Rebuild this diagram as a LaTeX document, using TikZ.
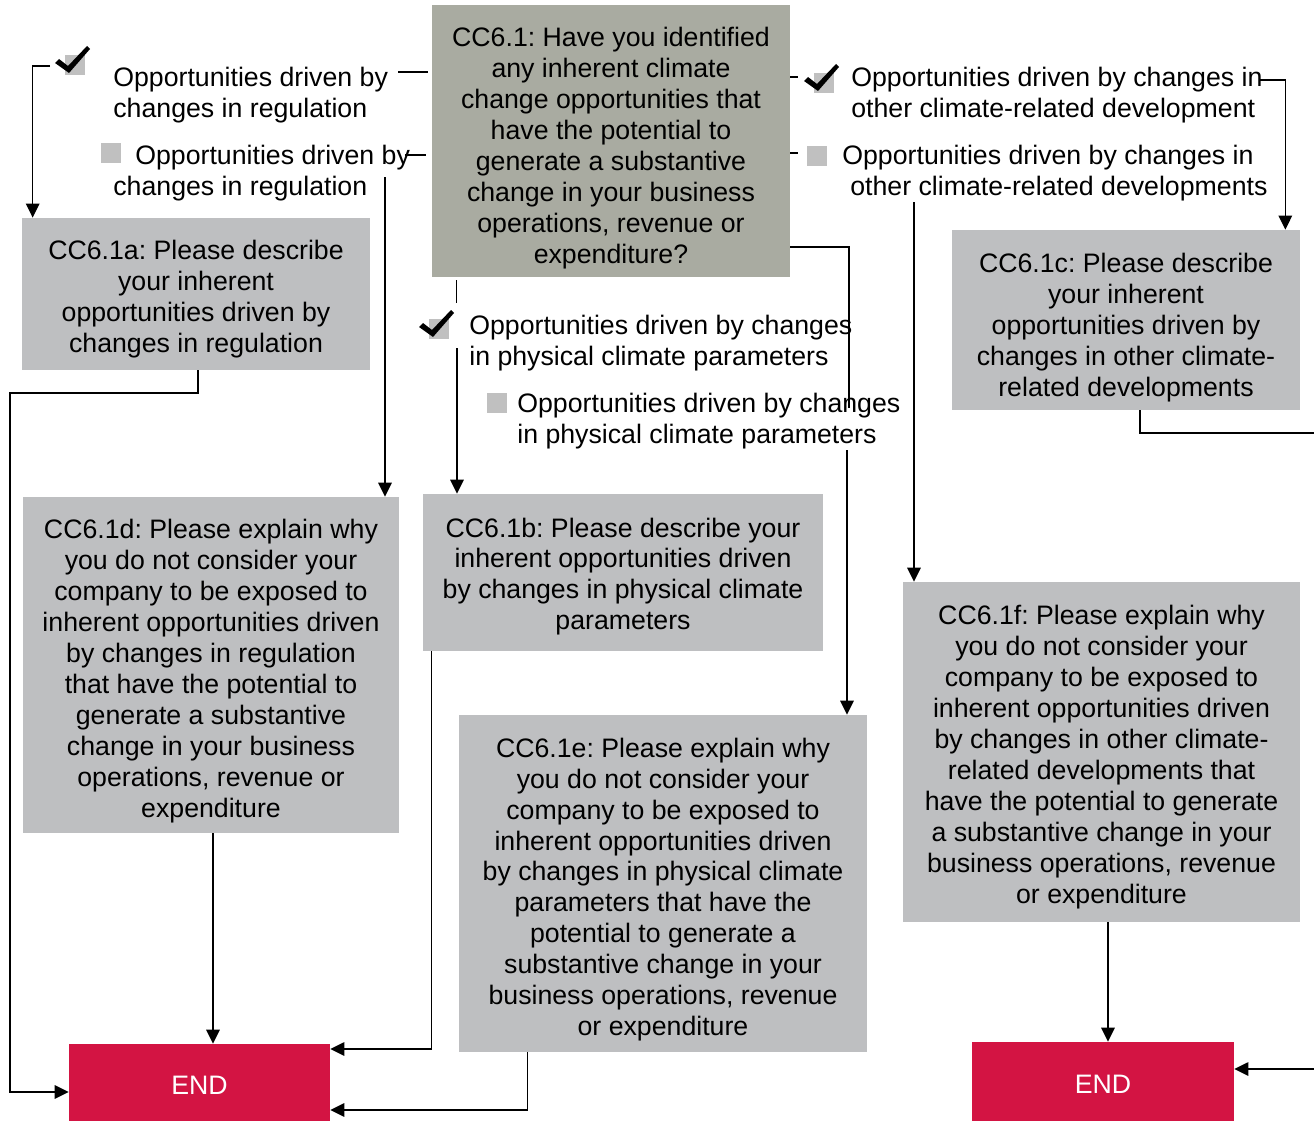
\documentclass[tikz,border=0pt]{standalone}
\usepackage{fontspec}
\setmainfont{Liberation Sans}
\usetikzlibrary{arrows.meta}
\definecolor{qgreen}{HTML}{A9ABA1}
\definecolor{qgray}{HTML}{BEBFC1}
\definecolor{tickgray}{HTML}{C0C0C0}
\definecolor{endred}{HTML}{D31443}
\frenchspacing
\begin{document}
\begin{tikzpicture}[x=0.02cm,y=-0.02cm,
  txt/.style={font=\fontsize{15.2}{17.6}\selectfont, inner sep=0pt},
  qbox/.style={fill=qgray, inner sep=0pt},
  qtext/.style={txt, align=center},
  endbox/.style={txt, fill=endred, text=white},
  opt/.style={txt, align=left, anchor=west},
  link/.style={draw=black, line width=0.8pt},
  arr/.style={link, -{Triangle[length=0.28cm,width=0.27cm]}},
  checkpic/.pic={
    \fill[tickgray] (0,0) rectangle (20,20);
    \fill[black] (-10,8) -- (-6,4) -- (3,11) -- (22,-9) -- (25,-6) -- (4,18) -- cycle;
  },
  squarepic/.pic={\fill[tickgray] (0,0) rectangle (20,20);}
]
\useasboundingbox (0,0) rectangle (1314,1122);

% question boxes
\node[qbox, fill=qgreen, minimum width=7.16cm, minimum height=5.44cm] (q) at (611,141) {};
\node[qtext] at ([yshift=-0.14cm]q.center)
  {CC6.1: Have you identified\\any inherent climate\\change opportunities that\\have the potential to\\generate a substantive\\change in your business\\operations, revenue or\\expenditure?};
\node[qbox, minimum width=6.96cm, minimum height=3.04cm] (a) at (196,294) {};
\node[qtext] at ([yshift=-0.1cm]a.center)
  {CC6.1a: Please describe\\your inherent\\opportunities driven by\\changes in regulation};
\node[qbox, minimum width=7.52cm, minimum height=6.72cm] (d) at (211,665) {};
\node[qtext] at ([yshift=-0.12cm]d.center)
  {CC6.1d: Please explain why\\you do not consider your\\company to be exposed to\\inherent opportunities driven\\by changes in regulation\\that have the potential to\\generate a substantive\\change in your business\\operations, revenue or\\expenditure};
\node[qbox, minimum width=8.0cm, minimum height=3.14cm] (b) at (623,572.5) {};
\node[qtext] at ([yshift=-0.08cm]b.center)
  {CC6.1b: Please describe your\\inherent opportunities driven\\by changes in physical climate\\parameters};
\node[qbox, minimum width=8.16cm, minimum height=6.74cm] (e) at (663,883.5) {};
\node[qtext] at ([yshift=-0.12cm]e.center)
  {CC6.1e: Please explain why\\you do not consider your\\company to be exposed to\\inherent opportunities driven\\by changes in physical climate\\parameters that have the\\potential to generate a\\substantive change in your\\business operations, revenue\\or expenditure};
\node[qbox, minimum width=6.96cm, minimum height=3.6cm] (c) at (1126,320) {};
\node[qtext] at ([yshift=-0.15cm]c.center)
  {CC6.1c: Please describe\\your inherent\\opportunities driven by\\changes in other climate-\\related developments};
\node[qbox, minimum width=7.94cm, minimum height=6.8cm] (f) at (1101.5,752) {};
\node[qtext] at ([yshift=-0.1cm]f.center)
  {CC6.1f: Please explain why\\you do not consider your\\company to be exposed to\\inherent opportunities driven\\by changes in other climate-\\related developments that\\have the potential to generate\\a substantive change in your\\business operations, revenue\\or expenditure};
\node[endbox, minimum width=5.22cm, minimum height=1.54cm] (end1) at (199.5,1082.5) {};
\node[txt, text=white] at ([yshift=-0.06cm]end1.center) {END};
\node[endbox, minimum width=5.24cm, minimum height=1.58cm] (end2) at (1103,1081.5) {};
\node[txt, text=white] at ([yshift=-0.06cm]end2.center) {END};

% answer options
\node[opt] (o1) at (113,95.5) {Opportunities driven by\\changes in regulation};
\node[opt] (o2) at (113,173.5) {\hspace*{0.44cm}Opportunities driven by\\changes in regulation};
\node[opt] (o3) at (469,343) {Opportunities driven by changes\\in physical climate parameters};
\node[opt] (o4) at (517,421) {Opportunities driven by changes\\in physical climate parameters};
\node[opt] (o5) at (851,95.5) {Opportunities driven by changes in\\other climate-related development};
\node[opt] (o6) at (842,173.5) {Opportunities driven by changes in\\\hspace*{0.16cm}other climate-related developments};

% tick boxes
\pic at (65,55) {checkpic};
\pic at (429,319) {checkpic};
\pic at (814,73) {checkpic};
\pic at (101,143) {squarepic};
\pic at (807,146) {squarepic};
\pic at (487,393) {squarepic};

% connectors, left branch
\coordinate (k1) at (50,66);
\draw[arr] (k1) -| ([xshift=0.22cm]a.north west);
\draw[link] ([xshift=-0.08cm,yshift=1.38cm]q.west) -- ++(-30,0);
\draw[link] ([xshift=-0.12cm,yshift=-0.28cm]q.west) -- ++(-21,0);
\coordinate (k2) at (385,177);
\draw[arr] (k2) -- (k2 |- d.north);
\coordinate (l1) at (10,393);
\draw[arr] ([xshift=0.04cm]a.south) |- (l1) |- ([yshift=-0.19cm]end1.west);
\coordinate (dS) at ([xshift=0.04cm]d.south);
\draw[arr] (dS) -- (dS |- end1.north);

% connectors, middle branch
\draw[link] ([xshift=0.5cm,yshift=-0.06cm]q.south west) -- ++(0,23);
\coordinate (k3) at (457,348);
\draw[arr] (k3) -- (k3 |- b.north);
\draw[arr] ([xshift=0.18cm]b.south west) |- ([yshift=0.67cm]end1.east);
\draw[arr] ([xshift=1.38cm]e.south west) |- ([yshift=-0.55cm]end1.east);
\coordinate (r1) at (849,408);
\draw[link] ([yshift=-2.12cm]q.east) -| (r1);
\coordinate (r2) at (847,450);
\draw[arr] (r2) -- (r2 |- e.north);

% connectors, right branch
\draw[link] ([yshift=1.28cm]q.east) -- ++(8,0);
\draw[link] ([yshift=-0.24cm]q.east) -- ++(8,0);
\coordinate (k5) at (1260,80);
\draw[arr] (k5) -| ([xshift=-0.3cm]c.north east);
\coordinate (k6) at (914,202);
\draw[arr] (k6) -- (k6 |- f.north);
\coordinate (cx) at (1314,433);
\draw[link] ([xshift=0.28cm]c.south) |- (cx);
\coordinate (fS) at ([xshift=0.13cm]f.south);
\draw[arr] (fS) -- (fS |- end2.north);
\coordinate (ex) at (1314,1069);
\draw[arr] (ex) -- (ex -| end2.east);
\end{tikzpicture}
\end{document}
